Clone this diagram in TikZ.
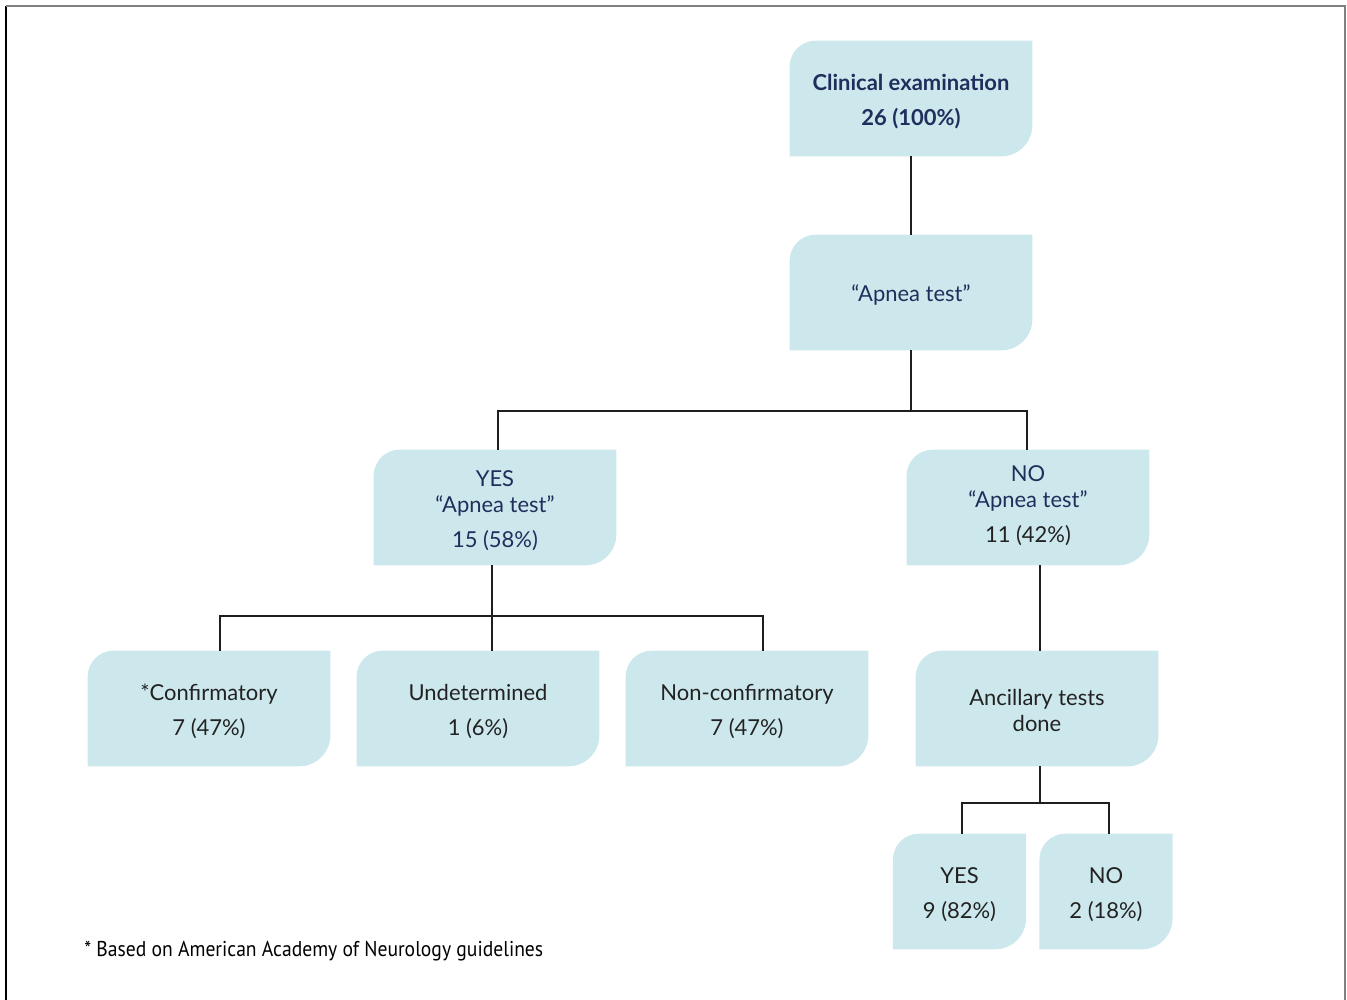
\documentclass[tikz,border=0pt]{standalone}
\usepackage{fontspec}
\setmainfont{Lato}
\newfontfamily\notefont[FakeStretch=0.915]{PT Sans}
\usetikzlibrary{backgrounds}
\definecolor{boxc}{RGB}{204,232,236}
\definecolor{navy}{RGB}{32,46,92}
\definecolor{darktxt}{RGB}{34,34,34}
\definecolor{linec}{RGB}{30,30,30}
\newcommand\shapefill[1]{%
  \fill[boxc] (#1.south west) -- ([yshift=-0.52cm]#1.north west)
    arc[start angle=180,end angle=90,radius=0.52cm] -- (#1.north east)
    -- ([yshift=0.62cm]#1.south east)
    arc[start angle=0,end angle=-90,radius=0.62cm] -- cycle;}
\tikzset{
  fbox/.style={minimum width=4.84cm, minimum height=2.3cm, inner sep=0pt},
  sbox/.style={fbox, minimum width=2.65cm},
  txt/.style={inner sep=0pt, align=center, font=\fontsize{12.5}{14.8}\selectfont, text=darktxt},
  conn/.style={draw=linec, line width=0.8pt},
}
\begin{document}
\begin{tikzpicture}[x=0.02cm,y=-0.02cm]
\useasboundingbox (0,0) rectangle (1347,1000);
\draw[black, line width=1pt] (6,1000) -- (6,6);
\draw[gray, line width=1.2pt] (6,6) -- (1345,6) -- (1345,1000);

% boxes
\node[fbox] (clin) at (911,98.5) {};
\node[fbox] (apnea) at (911,292.5) {};
\node[fbox] (yes) at (495,507.5) {};
\node[fbox] (no) at (1028,507.5) {};
\node[fbox] (conf) at (209,708.5) {};
\node[fbox] (und) at (478,708.5) {};
\node[fbox] (non) at (747,708.5) {};
\node[fbox] (anc) at (1037,708.5) {};
\node[sbox] (syes) at (959.5,891.5) {};
\node[sbox] (sno) at (1106,891.5) {};

% texts
\node[txt, text=navy] (clint) at ([yshift=-0.06cm]clin.center) {\bfseries Clinical examination\\[5.1pt]\bfseries 26 (100\%)};
\node[txt, text=navy] (apneat) at ([yshift=-0.04cm]apnea.center) {“Apnea test”};
\node[txt, text=navy] (yest) at ([yshift=-0.06cm]yes.center) {YES\\“Apnea test”\\[5.1pt]15 (58\%)};
\node[txt] (not) at ([yshift=0.04cm]no.center) {\textcolor{navy}{NO}\\\textcolor{navy}{“Apnea test”}\\[5.1pt]11 (42\%)};
\node[txt] (conft) at ([yshift=-0.06cm]conf.center) {*Confirmatory\\[5.1pt]7 (47\%)};
\node[txt] (undt) at ([yshift=-0.06cm]und.center) {Undetermined\\[5.1pt]1 (6\%)};
\node[txt] (nont) at ([yshift=-0.06cm]non.center) {Non-confirmatory\\[5.1pt]7 (47\%)};
\node[txt] (anct) at ([yshift=-0.04cm]anc.center) {Ancillary tests\\done};
\node[txt] (syest) at ([yshift=-0.06cm]syes.center) {YES\\[5.1pt]9 (82\%)};
\node[txt] (snot) at ([yshift=-0.06cm]sno.center) {NO\\[5.1pt]2 (18\%)};
\node[anchor=west, inner sep=0pt, font=\notefont\fontsize{12.2}{14}\selectfont, text=black] (note) at (84,951.5) {* Based on American Academy of Neurology guidelines};

\begin{pgfonlayer}{background}
\foreach \n in {clin,apnea,yes,no,conf,und,non,anc,syes,sno} {\shapefill{\n}}
\end{pgfonlayer}

% connectors
\draw[conn] (clin.south) -- (apnea.north);
\coordinate (j1) at (911,411);
\draw[conn] (apnea.south) -- (j1);
\coordinate (yt) at (498,411);
\coordinate (nt) at (1027,411);
\draw[conn] (yt |- yes.north) -- (yt) -- (nt) -- (nt |- no.north);
\coordinate (j2) at (492,616);
\coordinate (cx) at (220,616);
\coordinate (nx) at (763,616);
\draw[conn] (j2 |- yes.south) -- (j2) -- (j2 |- und.north);
\draw[conn] (cx |- conf.north) -- (cx) -- (nx) -- (nx |- non.north);
\coordinate (ns) at (1040,565);
\draw[conn] (ns |- no.south) -- (ns |- anc.north);
\coordinate (j3) at (1040,803);
\draw[conn] (j3 |- anc.south) -- (j3);
\coordinate (yx) at (962,803);
\coordinate (nox) at (1109,803);
\draw[conn] (yx |- syes.north) -- (yx) -- (nox) -- (nox |- sno.north);
\end{tikzpicture}
\end{document}
